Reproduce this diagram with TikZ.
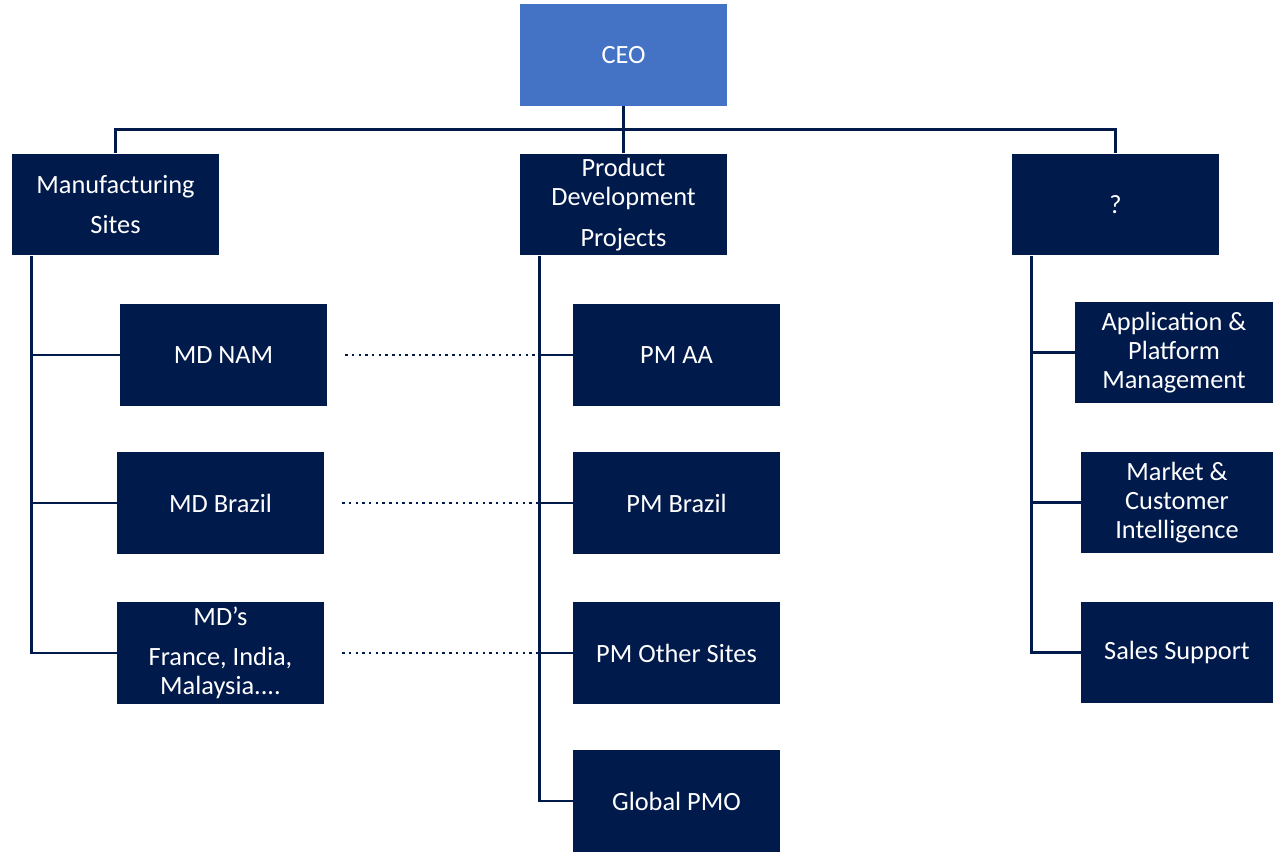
\documentclass[tikz,border=0pt]{standalone}
\usepackage{fontspec}
\setmainfont{Carlito}
\usetikzlibrary{calc}
\definecolor{navy}{HTML}{001A4C}
\definecolor{ceoblue}{HTML}{4472C4}
\begin{document}
\begin{tikzpicture}[x=0.02cm,y=-0.02cm,
    box/.style={fill=navy,text=white,minimum width=4.14cm,minimum height=2.04cm,
      align=center,font=\fontsize{15}{16.5}\selectfont,inner sep=0pt},
    rbox/.style={box,minimum width=3.84cm},
    link/.style={navy,line width=1.6pt},
    dots/.style={navy,line width=1.4pt,dash pattern=on 1.4pt off 2.4pt,shorten <=0.36cm,shorten >=0.46cm}]
  \useasboundingbox (0,0) rectangle (1273,851);
  % top
  \node[box,fill=ceoblue] (ceo) at (623.5,55) {CEO};
  \node[box] (mfg) at (115.5,204.5) {Manufacturing\\[6.5pt]Sites};
  \node[box] (pdp) at (623.5,204.5) {Product\\Development\\[6.5pt]Projects};
  \node[box] (que) at (1115.5,204.5) {?};
  % manufacturing
  \node[box] (mdnam) at (223.5,355) {MD NAM};
  \node[box] (mdbra) at (220.5,503) {MD Brazil};
  \node[box] (mdoth) at (220.5,653) {MD’s\\[6pt]France, India,\\Malaysia....};
  % projects
  \node[box] (pmaa) at (676.5,355) {PM AA};
  \node[box] (pmbra) at (676.5,503) {PM Brazil};
  \node[box] (pmoth) at (676.5,653) {PM Other Sites};
  \node[box] (pmo) at (676.5,801) {Global PMO};
  % third column
  \node[box,minimum width=3.96cm] (app) at (1174,352.5) {Application \&\\Platform\\Management};
  \node[rbox] (mci) at (1177,502.5) {Market \&\\Customer\\Intelligence};
  \node[rbox] (sales) at (1177,652.5) {Sales Support};
  % connectors
  \draw[link] (ceo) -- (pdp);
  \draw[link] (mfg.north) |- ($(ceo.south)!.5!(pdp.north)$) -| (que.north);
  \draw[link] ([xshift=0.4cm]mfg.south west) |- (mdoth.west);
  \draw[link] ([xshift=0.4cm]mfg.south west) |- (mdnam.west);
  \draw[link] ([xshift=0.4cm]mfg.south west) |- (mdbra.west);
  \draw[link] ([xshift=0.4cm]pdp.south west) |- (pmo.west);
  \foreach \n in {pmaa,pmbra,pmoth}
    \draw[link] ([xshift=0.4cm]pdp.south west) |- (\n.west);
  \foreach \n in {app,mci,sales}
    \draw[link] ([xshift=0.4cm]que.south west) |- (\n.west);
  \draw[dots] (mdnam.east) -- (pmaa.west);
  \draw[dots] (mdbra.east) -- (pmbra.west);
  \draw[dots] (mdoth.east) -- (pmoth.west);
\end{tikzpicture}
\end{document}
